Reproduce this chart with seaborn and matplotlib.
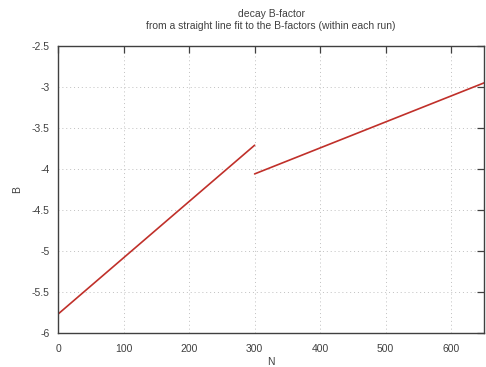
import matplotlib
matplotlib.use("Agg")
import matplotlib.pyplot as plt
import seaborn as sns
import pandas as pd

# Straight-line fits of the B-factor decay, one segment per run
run_labels = ["run 1", "run 1", "run 2", "run 2"]
n_values = [0, 300, 300, 650]
b_values = [-5.77, -3.71, -4.06, -2.95]

x_ticks = [0, 100, 200, 300, 400, 500, 600]
y_ticks = [-6, -5.5, -5, -4.5, -4, -3.5, -3, -2.5]
y_tick_labels = ["-6", "-5.5", "-5", "-4.5", "-4", "-3.5", "-3", "-2.5"]

df = pd.DataFrame({"run": run_labels, "N": n_values, "B": b_values})

sns.set_style("white")
plt.rcParams["font.family"] = ["Liberation Sans", "DejaVu Sans"]
text_color = "#404040"

fig = plt.figure(figsize=(4.86, 3.67), dpi=100)
ax = fig.add_axes([58 / 486, 34 / 367, 426 / 486, 287 / 367])

sns.lineplot(data=df, x="N", y="B", hue="run", palette=["#c0302a", "#c0302a"],
             linewidth=1.2, legend=False, ax=ax)

ax.set_xlim(0, 650)
ax.set_ylim(-6, -2.5)
ax.set_xticks(x_ticks)
ax.set_xticklabels([str(t) for t in x_ticks])
ax.set_yticks(y_ticks)
ax.set_yticklabels(y_tick_labels)

ax.grid(True, color="#c0c0c0", linestyle=(0, (1, 3)), linewidth=0.7)
ax.set_axisbelow(True)
for s in ax.spines.values():
    s.set_color(text_color)
    s.set_linewidth(1.0)
    s.set_visible(True)

ax.tick_params(axis="both", which="major", direction="in", length=5, width=0.9,
               color=text_color, labelcolor=text_color, labelsize=7.5,
               top=True, right=True, pad=6)
ax.tick_params(axis="x", pad=8)

ax.set_xlabel("N", fontsize=7.5, color=text_color, labelpad=2)
ax.set_ylabel("B", fontsize=7.5, color=text_color, labelpad=7)
ax.set_title("decay B-factor\nfrom a straight line fit to the B-factors (within each run)",
             fontsize=7.5, color=text_color, pad=12, linespacing=1.3)

fig.savefig("out.png", dpi=100)
